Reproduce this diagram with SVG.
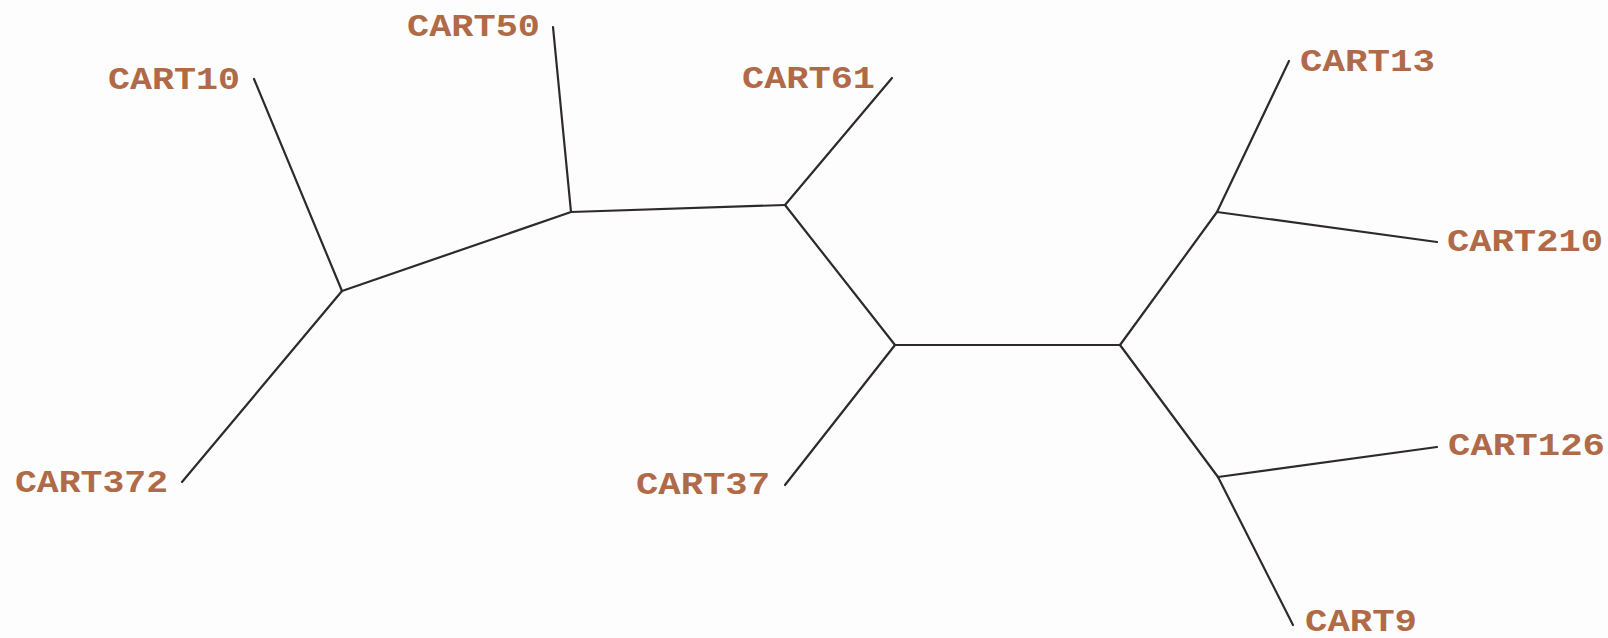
<svg xmlns="http://www.w3.org/2000/svg" width="1608" height="638" viewBox="0 0 1608 638">
<style>
.lbl{font-family:"Liberation Mono","DejaVu Sans Mono",monospace;font-weight:bold;font-size:31px;fill:#b06a48}
.e{stroke:#2e2a2c;stroke-width:2.2;fill:none;stroke-linecap:round}
</style>
<rect width="1608" height="638" fill="#fdfdfd"/>
<g id="connectors">
<line class="e" x1="342" y1="291" x2="254" y2="79"/>
<line class="e" x1="342" y1="291" x2="182" y2="482"/>
<line class="e" x1="342" y1="291" x2="571" y2="212"/>
<line class="e" x1="571" y1="212" x2="553" y2="27"/>
<line class="e" x1="571" y1="212" x2="785" y2="205"/>
<line class="e" x1="785" y1="205" x2="892" y2="78"/>
<line class="e" x1="785" y1="205" x2="895" y2="345"/>
<line class="e" x1="895" y1="345" x2="785" y2="485"/>
<line class="e" x1="895" y1="345" x2="1120" y2="345"/>
<line class="e" x1="1120" y1="345" x2="1217" y2="212"/>
<line class="e" x1="1217" y1="212" x2="1289" y2="61"/>
<line class="e" x1="1217" y1="212" x2="1437" y2="242"/>
<line class="e" x1="1120" y1="345" x2="1218" y2="477"/>
<line class="e" x1="1218" y1="477" x2="1437" y2="447"/>
<line class="e" x1="1218" y1="477" x2="1293" y2="625"/>
</g>
<g id="CART10"><text class="lbl" x="108" y="89" textLength="132" lengthAdjust="spacingAndGlyphs">CART10</text></g>
<g id="CART50"><text class="lbl" x="407" y="36" textLength="133" lengthAdjust="spacingAndGlyphs">CART50</text></g>
<g id="CART61"><text class="lbl" x="742" y="88" textLength="133" lengthAdjust="spacingAndGlyphs">CART61</text></g>
<g id="CART13"><text class="lbl" x="1300" y="71" textLength="135" lengthAdjust="spacingAndGlyphs">CART13</text></g>
<g id="CART210"><text class="lbl" x="1447" y="251" textLength="156" lengthAdjust="spacingAndGlyphs">CART210</text></g>
<g id="CART372"><text class="lbl" x="15" y="492" textLength="153" lengthAdjust="spacingAndGlyphs">CART372</text></g>
<g id="CART37"><text class="lbl" x="636" y="494" textLength="134" lengthAdjust="spacingAndGlyphs">CART37</text></g>
<g id="CART126"><text class="lbl" x="1448" y="455" textLength="157" lengthAdjust="spacingAndGlyphs">CART126</text></g>
<g id="CART9"><text class="lbl" x="1305" y="631" textLength="112" lengthAdjust="spacingAndGlyphs">CART9</text></g>
</svg>
